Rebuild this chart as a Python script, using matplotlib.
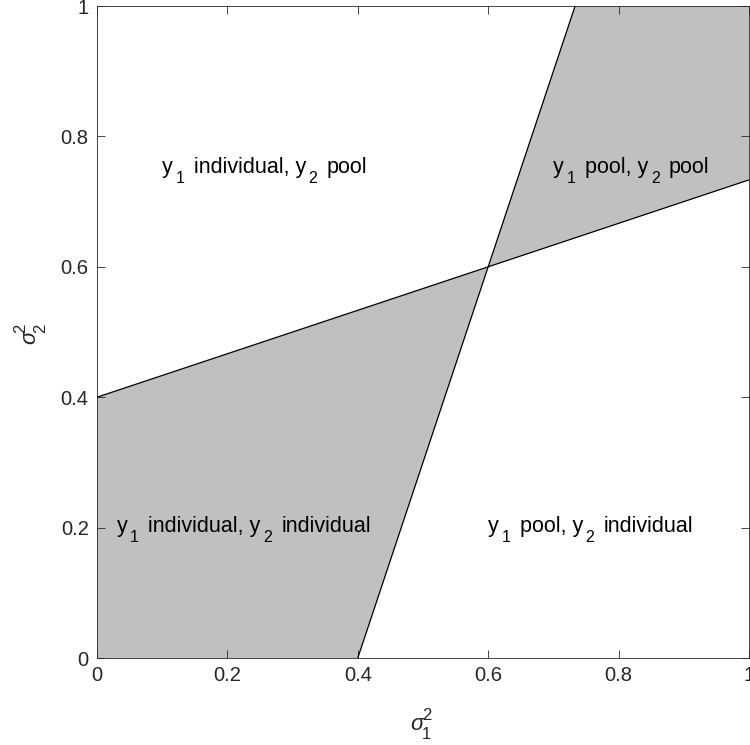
import matplotlib
matplotlib.use("Agg")
import matplotlib.pyplot as plt
from matplotlib.transforms import IdentityTransform

plt.rcParams['font.family'] = ['Liberation Sans', 'DejaVu Sans']
plt.rcParams['mathtext.fontset'] = 'custom'
plt.rcParams['mathtext.rm'] = 'Liberation Sans'
plt.rcParams['mathtext.it'] = 'Liberation Sans:italic'
plt.rcParams['mathtext.sf'] = 'Liberation Sans'

# Boundary lines
line1_x = [0.0, 1.0]
line1_y = [0.4, 0.7333]
line2_x = [0.4, 0.7333]
line2_y = [0.0, 1.0]

# Shaded regions (vertices)
regionA_x = [0.0, 0.4, 0.6, 0.0]
regionA_y = [0.0, 0.0, 0.6, 0.4]
regionB_x = [0.6, 0.7333, 1.0, 1.0]
regionB_y = [0.6, 1.0, 1.0, 0.7333]

# Region labels: list of (text, is_subscript) parts
labels = [
    [("y", False), ("1", True), (" individual, y", False), ("2", True), (" pool", False)],
    [("y", False), ("1", True), (" pool, y", False), ("2", True), (" pool", False)],
    [("y", False), ("1", True), (" individual, y", False), ("2", True), (" individual", False)],
    [("y", False), ("1", True), (" pool, y", False), ("2", True), (" individual", False)],
]
label_x = [0.1, 0.7, 0.03, 0.6]
label_y = [0.75, 0.75, 0.2, 0.2]

ticks = [0, 0.2, 0.4, 0.6, 0.8, 1]
tick_labels = ["0", "0.2", "0.4", "0.6", "0.8", "1"]

W, H = 750, 745
fig = plt.figure(figsize=(W / 100, H / 100), dpi=100)
ax = fig.add_axes([97 / W, 1 - 658 / H, 652 / W, 652 / H])

ax.fill(regionA_x, regionA_y, color='#c0c0c0', lw=0, zorder=1)
ax.fill(regionB_x, regionB_y, color='#c0c0c0', lw=0, zorder=1)
ax.plot(line1_x, line1_y, color='black', lw=0.9, zorder=2)
ax.plot(line2_x, line2_y, color='black', lw=0.9, zorder=2)

ax.set_xlim(0, 1)
ax.set_ylim(0, 1)
ax.set_xticks(ticks)
ax.set_xticklabels(tick_labels)
ax.set_yticks(ticks)
ax.set_yticklabels(tick_labels)
ax.tick_params(direction='in', length=6, width=0.6, color='#262626',
               labelsize=14.5, labelcolor='#262626', top=True, right=True, pad=6)
for s in ax.spines.values():
    s.set_color('#262626')
    s.set_linewidth(0.6)

renderer = fig.canvas.get_renderer()
BASE_FS = 15.5
SUB_FS = 11.5

def text_width(s, fs):
    t = fig.text(0, 0, s, fontsize=fs, transform=IdentityTransform())
    w = t.get_window_extent(renderer).width
    t.remove()
    return w

space_w = text_width("a a", BASE_FS) - text_width("aa", BASE_FS)

def place_label(x, y, parts):
    px, py = ax.transData.transform((x, y))
    base = py - 4
    cur = px
    for txt, sub in parts:
        n = len(txt) - len(txt.lstrip(' '))
        cur += n * space_w
        txt = txt.lstrip(' ')
        fs = SUB_FS if sub else BASE_FS
        t = fig.text(cur, base - (10 if sub else 0), txt, fontsize=fs,
                     color='black', ha='left', va='baseline',
                     transform=IdentityTransform(), zorder=5)
        cur += t.get_window_extent(renderer).width + (3.5 if sub else 2.5)

for parts, x, y in zip(labels, label_x, label_y):
    place_label(x, y, parts)

# Axis labels (sigma with stacked sub/superscripts), in pixel coords
LBL_COLOR = '#262626'
# x label
fig.text(410, H - 730, r'$\sigma$', fontsize=16, color=LBL_COLOR, ha='left', va='baseline',
         transform=IdentityTransform())
fig.text(422, H - 720, '2', fontsize=SUB_FS + 0.5, color=LBL_COLOR, ha='left', va='baseline',
         transform=IdentityTransform())
fig.text(422, H - 739, '1', fontsize=SUB_FS + 0.5, color=LBL_COLOR, ha='left', va='baseline',
         transform=IdentityTransform())
# y label (rotated)
fig.text(36, H - 345, r'$\sigma$', fontsize=16, color=LBL_COLOR, ha='left', va='baseline',
         rotation=90, rotation_mode='anchor', transform=IdentityTransform())
fig.text(25, H - 333, '2', fontsize=SUB_FS + 0.5, color=LBL_COLOR, ha='left', va='baseline',
         rotation=90, rotation_mode='anchor', transform=IdentityTransform())
fig.text(45, H - 333, '2', fontsize=SUB_FS + 0.5, color=LBL_COLOR, ha='left', va='baseline',
         rotation=90, rotation_mode='anchor', transform=IdentityTransform())

fig.savefig('out.png', dpi=100)
